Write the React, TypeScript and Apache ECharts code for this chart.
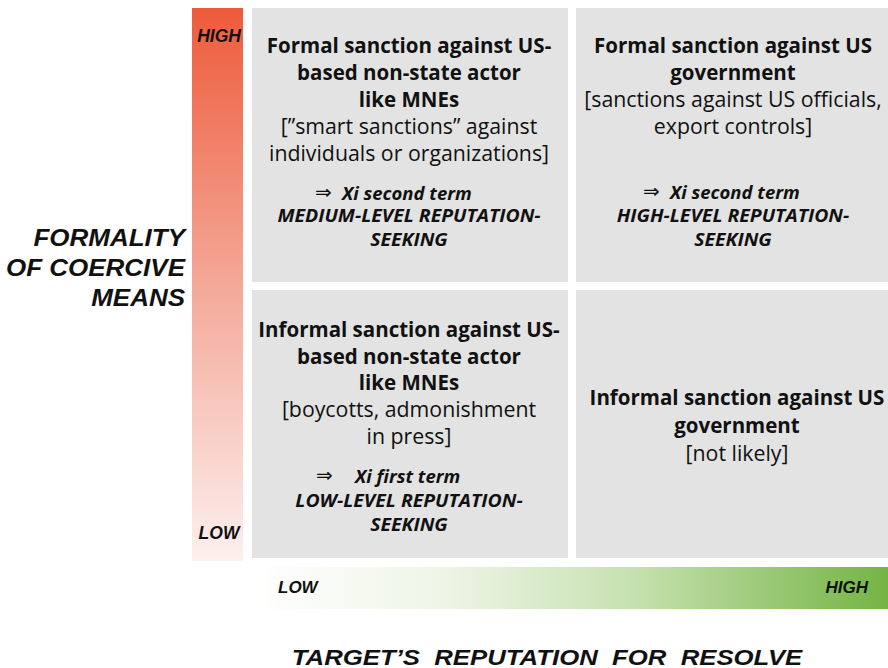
import React, { useEffect, useRef } from "react";
import * as echarts from "echarts";

// ---- data ----
const quadrantTitles = [
  ["Formal sanction against US-", "based non-state actor", "like MNEs"],
  ["Formal sanction against US", "government"],
  ["Informal sanction against US-", "based non-state actor", "like MNEs"],
  ["Informal sanction against US", "government"],
];
const quadrantExamples = [
  ["[\u201Dsmart sanctions\u201D against", "individuals or organizations]"],
  ["[sanctions against US officials,", "export controls]"],
  ["[boycotts, admonishment", "in press]"],
  ["[not likely]"],
];
const quadrantTerms = ["Xi second term", "Xi second term", "Xi first term", ""];
const quadrantLevels = [
  "MEDIUM-LEVEL REPUTATION-\nSEEKING",
  "HIGH-LEVEL REPUTATION-\nSEEKING",
  "LOW-LEVEL REPUTATION-\nSEEKING",
  "",
];
const yAxisTitle = ["FORMALITY", "OF COERCIVE", "MEANS"];
const xAxisTitle = "TARGET\u2019S  REPUTATION  FOR  RESOLVE";
const scaleLabels = ["LOW", "HIGH"];

// ---- layout (positions / sizes) ----
const cells = [
  { x: 252, y: 8, w: 316, h: 274, cx: 409, titleY: 45, lh: 26.8, arrowX: 315, termX: 342, termY: 192, levelY: 215 },
  { x: 576, y: 8, w: 312, h: 274, cx: 733, titleY: 45, lh: 26.7, arrowX: 643, termX: 670, termY: 191, levelY: 215 },
  { x: 252, y: 290, w: 316, h: 268, cx: 409, titleY: 329, lh: 26.5, arrowX: 316, termX: 355, termY: 475, levelY: 500 },
  { x: 576, y: 290, w: 312, h: 268, cx: 737, titleY: 397, lh: 27.5, arrowX: 0, termX: 0, termY: 0, levelY: 0 },
];
const CELL_FONT = "'Open Sans', Lato, sans-serif";
const HELV = "'Liberation Sans', Arial, sans-serif";

export default function App() {
  const ref = useRef<HTMLDivElement>(null);
  useEffect(() => {
    if (!ref.current) return;
    const chart = echarts.init(ref.current, undefined, { renderer: "svg" });
    const els: any[] = [];

    // red vertical scale
    els.push({
      type: "rect",
      shape: { x: 192, y: 8, width: 51, height: 553 },
      style: {
        fill: new echarts.graphic.LinearGradient(0, 0, 0, 1, [
          { offset: 0, color: "#ee5b3a" },
          { offset: 0.5, color: "#f4a898" },
          { offset: 1, color: "#fcf0ee" },
        ]),
      },
    });
    // green horizontal scale
    els.push({
      type: "rect",
      shape: { x: 252, y: 567, width: 636, height: 42 },
      style: {
        fill: new echarts.graphic.LinearGradient(0, 0, 1, 0, [
          { offset: 0, color: "#ffffff" },
          { offset: 0.3, color: "#eef5e6" },
          { offset: 0.6, color: "#c6e1b0" },
          { offset: 1, color: "#74b444" },
        ]),
      },
    });

    cells.forEach((c, i) => {
      els.push({ type: "rect", shape: { x: c.x, y: c.y, width: c.w, height: c.h }, style: { fill: "#e3e3e3" } });
      const lines = [
        ...quadrantTitles[i].map((t) => `{b|${t}}`),
        ...quadrantExamples[i].map((t) => `{r|${t}}`),
      ].join("\n");
      els.push({
        type: "text",
        x: c.cx,
        y: c.titleY - c.lh / 2,
        style: {
          text: lines, align: "center", textAlign: "center", verticalAlign: "top", textVerticalAlign: "top",
          fontFamily: CELL_FONT, fontSize: 21, lineHeight: c.lh, fill: "#111",
          rich: {
            b: { fontFamily: CELL_FONT, fontSize: 20.5, fontWeight: "bold", lineHeight: c.lh, fill: "#111" },
            r: { fontFamily: CELL_FONT, fontSize: 21.3, fontWeight: "normal", lineHeight: c.lh, fill: "#111" },
          },
        },
      });
      if (quadrantTerms[i]) {
        els.push({
          type: "text", x: c.arrowX, y: c.termY,
          style: { text: "\u21D2", align: "left", textAlign: "left", verticalAlign: "middle", textVerticalAlign: "middle",
            fontFamily: "'DejaVu Sans', sans-serif", fontSize: 20, fill: "#111" },
        });
        els.push({
          type: "text", x: c.termX, y: c.termY,
          style: { text: quadrantTerms[i], align: "left", textAlign: "left", verticalAlign: "middle", textVerticalAlign: "middle",
            fontFamily: CELL_FONT, fontSize: 18.5, fontWeight: "bold", fontStyle: "italic", fill: "#111" },
        });
      }
      if (quadrantLevels[i]) {
        els.push({
          type: "text", x: c.cx, y: c.levelY - 12, scaleX: 1.08,
          style: { text: quadrantLevels[i], align: "center", textAlign: "center", verticalAlign: "top", textVerticalAlign: "top",
            fontFamily: CELL_FONT, fontSize: 18, fontWeight: "bold", fontStyle: "italic", lineHeight: 24, fill: "#111" },
        });
      }
    });

    // red bar labels
    els.push({
      type: "text", x: 219, y: 36,
      style: { text: scaleLabels[1], align: "center", textAlign: "center", verticalAlign: "middle", textVerticalAlign: "middle",
        fontFamily: HELV, fontSize: 17.5, fontWeight: "bold", fontStyle: "italic", fill: "#111" },
    });
    els.push({
      type: "text", x: 219, y: 533,
      style: { text: scaleLabels[0], align: "center", textAlign: "center", verticalAlign: "middle", textVerticalAlign: "middle",
        fontFamily: HELV, fontSize: 17.5, fontWeight: "bold", fontStyle: "italic", fill: "#111" },
    });
    // green bar labels
    els.push({
      type: "text", x: 278, y: 587,
      style: { text: scaleLabels[0], align: "left", textAlign: "left", verticalAlign: "middle", textVerticalAlign: "middle",
        fontFamily: HELV, fontSize: 17, fontWeight: "bold", fontStyle: "italic", fill: "#111" },
    });
    els.push({
      type: "text", x: 868, y: 587,
      style: { text: scaleLabels[1], align: "right", textAlign: "right", verticalAlign: "middle", textVerticalAlign: "middle",
        fontFamily: HELV, fontSize: 17, fontWeight: "bold", fontStyle: "italic", fill: "#111" },
    });

    // y title
    yAxisTitle.forEach((t, k) => {
      els.push({
        type: "text", x: 185, y: 238 + k * 30, scaleX: 1.13,
        style: { text: t, align: "right", textAlign: "right", verticalAlign: "middle", textVerticalAlign: "middle",
          fontFamily: HELV, fontSize: 23, fontWeight: "bold", fontStyle: "italic", fill: "#111" },
      });
    });
    // x title
    els.push({
      type: "text", x: 547, y: 657, scaleX: 1.17,
      style: { text: xAxisTitle, align: "center", textAlign: "center", verticalAlign: "middle", textVerticalAlign: "middle",
        fontFamily: HELV, fontSize: 22, fontWeight: "bold", fontStyle: "italic", fill: "#111" },
    });

    chart.setOption({ animation: false, graphic: { elements: els } });
    return () => chart.dispose();
  }, []);
  return <div ref={ref} style={{ position: "fixed", left: 0, top: 0, width: 888, height: 668, background: "#fff" }} />;
}
